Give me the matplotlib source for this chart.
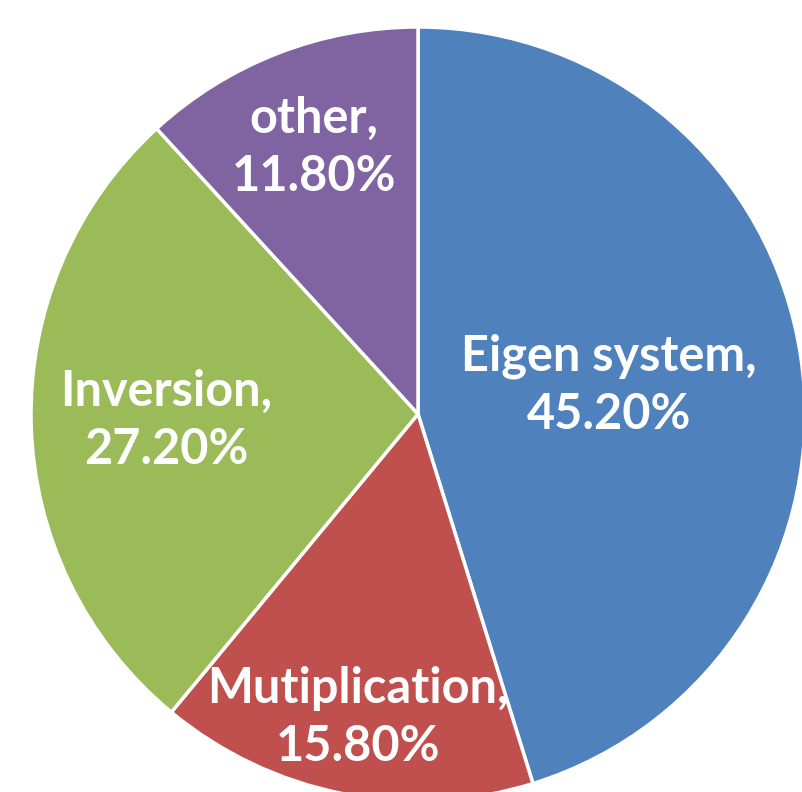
import numpy as np
import matplotlib
matplotlib.use("Agg")
import matplotlib.pyplot as plt

labels = ["Eigen system", "Mutiplication", "Inversion", "other"]
shares = [45.2, 15.8, 27.2, 11.8]
colors = ["#4F81BD", "#C0504D", "#9BBB59", "#8064A2"]
# how far out each label sits, as a fraction of the radius
label_r = [0.50, 0.80, 0.65, 0.74]

W, H = 803, 792
fig = plt.figure(figsize=(W / 100, H / 100), dpi=100)
ax = fig.add_axes([0, 0, 1, 1])

cx, cy, R = 418, H - 414, 387
wedges, _ = ax.pie(shares, colors=colors, startangle=90, counterclock=False,
                   center=(cx, cy), radius=R,
                   wedgeprops=dict(edgecolor="white", linewidth=2.5))

# pie() resets the limits, so set them afterwards
ax.set_xlim(0, W)
ax.set_ylim(0, H)
ax.set_aspect("equal")
ax.axis("off")

for w, lab, val, fr in zip(wedges, labels, shares, label_r):
    mid = np.deg2rad((w.theta1 + w.theta2) / 2)
    x = cx + fr * R * np.cos(mid)
    y = cy + fr * R * np.sin(mid)
    ax.text(x, y, "%s,\n%.2f%%" % (lab, val), ha="center", va="center",
            color="white", fontsize=35, fontweight="bold", family="Lato",
            linespacing=1.35)

fig.savefig("out.png", dpi=100)
